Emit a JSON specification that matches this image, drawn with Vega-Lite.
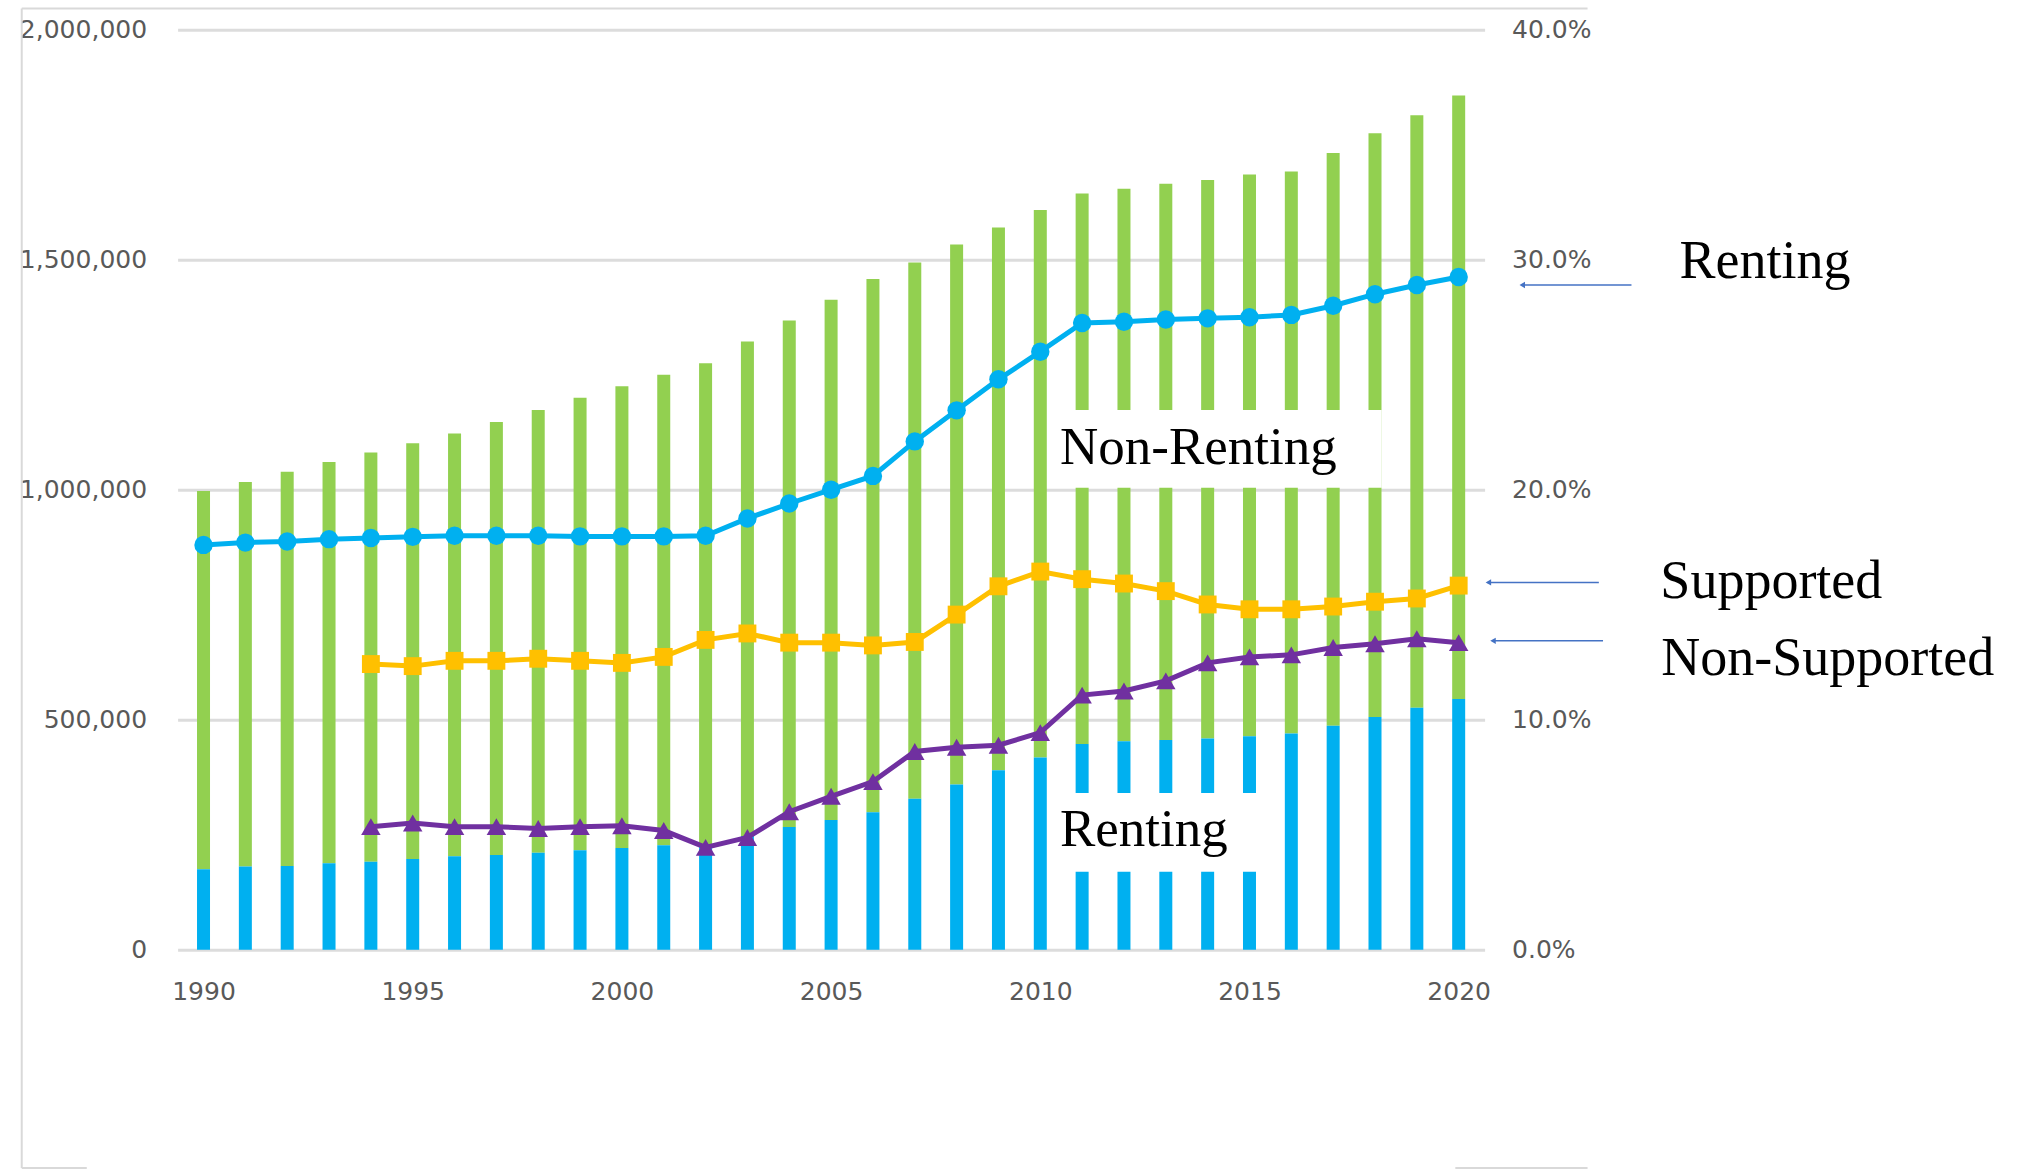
{
  "$schema": "https://vega.github.io/schema/vega-lite/v6.json",
  "autosize": {"type": "none"},
  "width": 1307,
  "height": 920,
  "padding": {"left": 177.6, "top": 29.7, "right": 538.4, "bottom": 221.3},
  "background": "white",
  "config": {
    "view": {"stroke": null},
    "axis": {
      "labelFont": "DejaVu Sans",
      "labelFontSize": 25,
      "labelColor": "#595959",
      "ticks": false,
      "domain": false,
      "gridColor": "#dcdcdc",
      "gridWidth": 3
    }
  },
  "datasets": {
    "households": [
      {"year": 1990, "renting": 175000, "total": 997000, "rent_pct": 0.176, "sup_pct": null, "nonsup_pct": null},
      {"year": 1991, "renting": 181000, "total": 1017000, "rent_pct": 0.177, "sup_pct": null, "nonsup_pct": null},
      {"year": 1992, "renting": 182000, "total": 1039000, "rent_pct": 0.1775, "sup_pct": null, "nonsup_pct": null},
      {"year": 1993, "renting": 188000, "total": 1060000, "rent_pct": 0.1785, "sup_pct": null, "nonsup_pct": null},
      {"year": 1994, "renting": 191000, "total": 1081000, "rent_pct": 0.179, "sup_pct": 0.1242, "nonsup_pct": 0.0535},
      {"year": 1995, "renting": 197000, "total": 1101000, "rent_pct": 0.1795, "sup_pct": 0.1233, "nonsup_pct": 0.0551},
      {"year": 1996, "renting": 203000, "total": 1122000, "rent_pct": 0.18, "sup_pct": 0.1256, "nonsup_pct": 0.0535},
      {"year": 1997, "renting": 206000, "total": 1147000, "rent_pct": 0.18, "sup_pct": 0.1256, "nonsup_pct": 0.0535},
      {"year": 1998, "renting": 211000, "total": 1173000, "rent_pct": 0.18, "sup_pct": 0.1265, "nonsup_pct": 0.0527},
      {"year": 1999, "renting": 216000, "total": 1200000, "rent_pct": 0.1797, "sup_pct": 0.1256, "nonsup_pct": 0.0535},
      {"year": 2000, "renting": 221000, "total": 1225000, "rent_pct": 0.1797, "sup_pct": 0.1247, "nonsup_pct": 0.0539},
      {"year": 2001, "renting": 227000, "total": 1250000, "rent_pct": 0.1797, "sup_pct": 0.1273, "nonsup_pct": 0.0518},
      {"year": 2002, "renting": 229000, "total": 1275000, "rent_pct": 0.18, "sup_pct": 0.1347, "nonsup_pct": 0.0445},
      {"year": 2003, "renting": 247000, "total": 1322000, "rent_pct": 0.1875, "sup_pct": 0.1375, "nonsup_pct": 0.0488},
      {"year": 2004, "renting": 267000, "total": 1368000, "rent_pct": 0.194, "sup_pct": 0.1335, "nonsup_pct": 0.06},
      {"year": 2005, "renting": 282000, "total": 1413000, "rent_pct": 0.2, "sup_pct": 0.1335, "nonsup_pct": 0.0667},
      {"year": 2006, "renting": 299000, "total": 1458000, "rent_pct": 0.206, "sup_pct": 0.1323, "nonsup_pct": 0.0731},
      {"year": 2007, "renting": 328000, "total": 1494000, "rent_pct": 0.221, "sup_pct": 0.1338, "nonsup_pct": 0.0862},
      {"year": 2008, "renting": 359000, "total": 1533000, "rent_pct": 0.2345, "sup_pct": 0.1457, "nonsup_pct": 0.088},
      {"year": 2009, "renting": 390000, "total": 1570000, "rent_pct": 0.248, "sup_pct": 0.158, "nonsup_pct": 0.0889},
      {"year": 2010, "renting": 418000, "total": 1608000, "rent_pct": 0.26, "sup_pct": 0.1644, "nonsup_pct": 0.0944},
      {"year": 2011, "renting": 447000, "total": 1644000, "rent_pct": 0.2725, "sup_pct": 0.1611, "nonsup_pct": 0.1107},
      {"year": 2012, "renting": 453000, "total": 1654000, "rent_pct": 0.273, "sup_pct": 0.1592, "nonsup_pct": 0.1125},
      {"year": 2013, "renting": 456000, "total": 1665000, "rent_pct": 0.274, "sup_pct": 0.1559, "nonsup_pct": 0.1169},
      {"year": 2014, "renting": 459000, "total": 1673000, "rent_pct": 0.2745, "sup_pct": 0.1501, "nonsup_pct": 0.1247},
      {"year": 2015, "renting": 464000, "total": 1685000, "rent_pct": 0.275, "sup_pct": 0.148, "nonsup_pct": 0.1273},
      {"year": 2016, "renting": 470000, "total": 1692000, "rent_pct": 0.276, "sup_pct": 0.148, "nonsup_pct": 0.1282},
      {"year": 2017, "renting": 487000, "total": 1732000, "rent_pct": 0.28, "sup_pct": 0.1492, "nonsup_pct": 0.1314},
      {"year": 2018, "renting": 506000, "total": 1775000, "rent_pct": 0.285, "sup_pct": 0.1513, "nonsup_pct": 0.133},
      {"year": 2019, "renting": 526000, "total": 1814000, "rent_pct": 0.289, "sup_pct": 0.1527, "nonsup_pct": 0.1352},
      {"year": 2020, "renting": 545000, "total": 1857000, "rent_pct": 0.2925, "sup_pct": 0.1583, "nonsup_pct": 0.1335}
    ]
  },
  "layer": [
    {
      "layer": [
        {
          "data": {"name": "households"},
          "mark": {"type": "bar", "width": 13, "color": "#92D050"},
          "encoding": {
            "x": {
              "field": "year",
              "type": "quantitative",
              "title": null,
              "scale": {"domain": [1989.5, 2020.5], "nice": false, "zero": false},
              "axis": {
                "values": [1990, 1995, 2000, 2005, 2010, 2015, 2020],
                "labelExpr": "format(datum.value, 'd')",
                "grid": false,
                "labelPadding": 30
              }
            },
            "y": {
              "field": "renting",
              "type": "quantitative",
              "title": null,
              "stack": null,
              "scale": {"domain": [0, 2000000], "nice": false},
              "axis": {
                "orient": "left",
                "values": [0, 500000, 1000000, 1500000, 2000000],
                "labelExpr": "format(datum.value, ',')",
                "grid": true,
                "labelPadding": 31
              }
            },
            "y2": {"field": "total"}
          }
        },
        {
          "data": {"name": "households"},
          "mark": {"type": "bar", "width": 13, "color": "#00B0F0"},
          "encoding": {
            "x": {"field": "year", "type": "quantitative", "title": null},
            "y": {"field": "renting", "type": "quantitative", "title": null, "stack": null}
          }
        },
        {
          "data": {"values": [{}]},
          "mark": {"type": "rule", "color": "#d9d9d9", "strokeWidth": 2},
          "encoding": {
            "x": {"datum": 1985.655},
            "x2": {"datum": 2023.08},
            "y": {"datum": 2046300},
            "y2": {"datum": 2046300}
          }
        },
        {
          "data": {"values": [{}]},
          "mark": {"type": "rule", "color": "#d9d9d9", "strokeWidth": 2},
          "encoding": {
            "x": {"datum": 1985.655},
            "x2": {"datum": 1985.655},
            "y": {"datum": 2046300},
            "y2": {"datum": -474800}
          }
        },
        {
          "data": {"values": [{}]},
          "mark": {"type": "rule", "color": "#d9d9d9", "strokeWidth": 2},
          "encoding": {
            "x": {"datum": 1985.655},
            "x2": {"datum": 1987.21},
            "y": {"datum": -474800},
            "y2": {"datum": -474800}
          }
        },
        {
          "data": {"values": [{}]},
          "mark": {"type": "rule", "color": "#d9d9d9", "strokeWidth": 2},
          "encoding": {
            "x": {"datum": 2019.92},
            "x2": {"datum": 2023.08},
            "y": {"datum": -474800},
            "y2": {"datum": -474800}
          }
        },
        {
          "data": {"values": [{}]},
          "mark": {"type": "rect", "color": "white"},
          "encoding": {
            "x": {"datum": 2010.21},
            "x2": {"datum": 2018.16},
            "y": {"datum": 1173000},
            "y2": {"datum": 1004100}
          }
        },
        {
          "data": {"values": [{}]},
          "mark": {"type": "rect", "color": "white"},
          "encoding": {
            "x": {"datum": 2010.2},
            "x2": {"datum": 2015.22},
            "y": {"datum": 340400},
            "y2": {"datum": 169300}
          }
        },
        {
          "data": {"values": [{}]},
          "mark": {"type": "text", "text": "Non-Renting", "font": "Liberation Serif", "fontSize": 53, "color": "black", "align": "left", "baseline": "alphabetic"},
          "encoding": {
            "x": {"datum": 2010.47},
            "y": {"datum": 1055600}
          }
        },
        {
          "data": {"values": [{}]},
          "mark": {"type": "text", "text": "Renting", "font": "Liberation Serif", "fontSize": 53, "color": "black", "align": "left", "baseline": "alphabetic"},
          "encoding": {
            "x": {"datum": 2010.47},
            "y": {"datum": 225200}
          }
        }
      ]
    },
    {
      "layer": [
        {
          "data": {"name": "households"},
          "mark": {"type": "line", "color": "#00B0F0", "strokeWidth": 5, "point": {"shape": "circle", "size": 340, "filled": true, "color": "#00B0F0"}},
          "encoding": {
            "x": {"field": "year", "type": "quantitative", "title": null},
            "y": {
              "field": "rent_pct",
              "type": "quantitative",
              "title": null,
              "scale": {"domain": [0, 0.4], "nice": false},
              "axis": {
                "orient": "right",
                "values": [0, 0.1, 0.2, 0.3, 0.4],
                "labelExpr": "format(datum.value, '.1%')",
                "grid": false,
                "labelPadding": 27
              }
            }
          }
        },
        {
          "data": {"name": "households"},
          "mark": {"type": "line", "color": "#FFC000", "strokeWidth": 5, "point": {"shape": "square", "size": 320, "filled": true, "color": "#FFC000"}},
          "encoding": {
            "x": {"field": "year", "type": "quantitative", "title": null},
            "y": {"field": "sup_pct", "type": "quantitative", "title": null}
          }
        },
        {
          "data": {"name": "households"},
          "mark": {"type": "line", "color": "#7030A0", "strokeWidth": 5, "point": {"shape": "triangle-up", "size": 380, "filled": true, "color": "#7030A0"}},
          "encoding": {
            "x": {"field": "year", "type": "quantitative", "title": null},
            "y": {"field": "nonsup_pct", "type": "quantitative", "title": null}
          }
        },
        {
          "data": {"values": [{}]},
          "mark": {"type": "rule", "color": "#4472C4", "strokeWidth": 1.5},
          "encoding": {"x": {"datum": 2021.5}, "x2": {"datum": 2024.13}, "y": {"datum": 0.289}}
        },
        {
          "data": {"values": [{}]},
          "mark": {"type": "point", "shape": "triangle-left", "size": 40, "filled": true, "color": "#4472C4", "opacity": 1},
          "encoding": {"x": {"datum": 2021.52}, "y": {"datum": 0.289}}
        },
        {
          "data": {"values": [{}]},
          "mark": {"type": "rule", "color": "#4472C4", "strokeWidth": 1.5},
          "encoding": {"x": {"datum": 2020.69}, "x2": {"datum": 2023.35}, "y": {"datum": 0.1597}}
        },
        {
          "data": {"values": [{}]},
          "mark": {"type": "point", "shape": "triangle-left", "size": 40, "filled": true, "color": "#4472C4", "opacity": 1},
          "encoding": {"x": {"datum": 2020.71}, "y": {"datum": 0.1597}}
        },
        {
          "data": {"values": [{}]},
          "mark": {"type": "rule", "color": "#4472C4", "strokeWidth": 1.5},
          "encoding": {"x": {"datum": 2020.8}, "x2": {"datum": 2023.45}, "y": {"datum": 0.1343}}
        },
        {
          "data": {"values": [{}]},
          "mark": {"type": "point", "shape": "triangle-left", "size": 40, "filled": true, "color": "#4472C4", "opacity": 1},
          "encoding": {"x": {"datum": 2020.82}, "y": {"datum": 0.1343}}
        },
        {
          "data": {"values": [{}]},
          "mark": {"type": "text", "text": "Renting", "font": "Liberation Serif", "fontSize": 54, "color": "black", "align": "left", "baseline": "alphabetic"},
          "encoding": {"x": {"datum": 2025.28}, "y": {"datum": 0.2921}}
        },
        {
          "data": {"values": [{}]},
          "mark": {"type": "text", "text": "Supported", "font": "Liberation Serif", "fontSize": 54, "color": "black", "align": "left", "baseline": "alphabetic"},
          "encoding": {"x": {"datum": 2024.82}, "y": {"datum": 0.1527}}
        },
        {
          "data": {"values": [{}]},
          "mark": {"type": "text", "text": "Non-Supported", "font": "Liberation Serif", "fontSize": 54, "color": "black", "align": "left", "baseline": "alphabetic"},
          "encoding": {"x": {"datum": 2024.84}, "y": {"datum": 0.1194}}
        }
      ]
    }
  ],
  "resolve": {"scale": {"y": "independent"}, "axis": {"y": "independent"}}
}
